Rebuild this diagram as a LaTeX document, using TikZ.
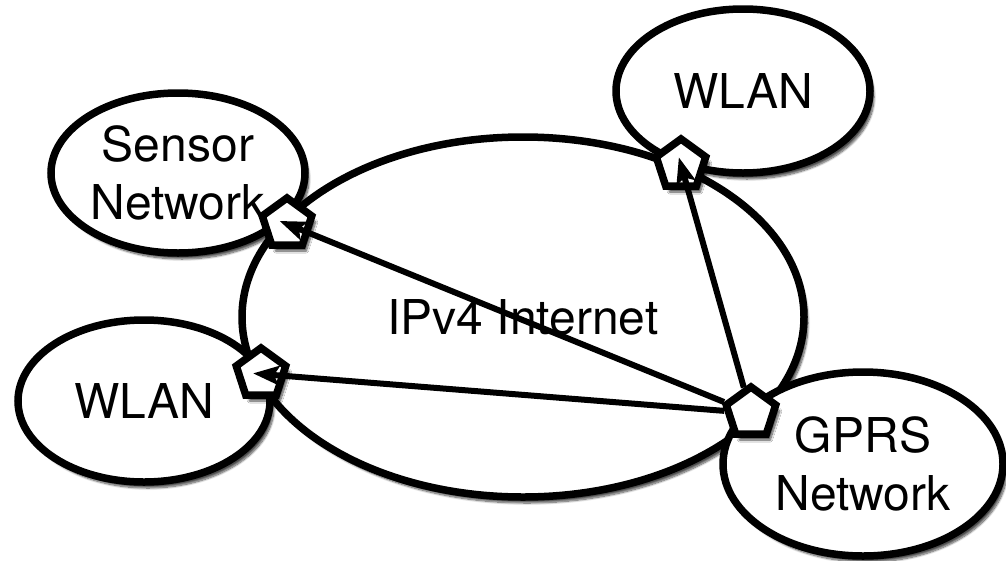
\documentclass[tikz,border=0pt]{standalone}
\usepackage{fontspec}
\setmainfont{TeX Gyre Heros}
\usetikzlibrary{
    arrows.meta,
    shapes.geometric,
    shadows.blur
}
\tikzset{
    % Shapes
    soft shadow/.style={blur shadow={shadow xshift=4pt,shadow yshift=-6pt,shadow blur steps=10,shadow opacity=70}},
    net/.style={ellipse,draw,line width=7.5pt,fill=white,inner sep=0pt,align=center,soft shadow},
    gateway/.style={regular polygon,regular polygon sides=5,draw,line width=7.5pt,fill=white,inner sep=0pt,minimum size=52pt,soft shadow},
    %
    % Arrows
    arrow tip/.tip={Stealth[length=26pt,width=19pt,inset=5pt]},
    arr/.style={->,>={arrow tip},line width=6pt,shorten >=-8pt}
}
\tikzstyle{every node}=[font=\fontsize{48}{58}\selectfont]

\begin{document}
\begin{tikzpicture}[x=1pt,y=-1pt]
        \useasboundingbox (0,0) rectangle (1006,560);
        \node[net,minimum width=562pt,minimum height=360pt] (internet) at (523,317) {IPv4 Internet};
        \node[net,minimum width=254pt,minimum height=160pt] (sensor) at (178,173) {Sensor\\Network};
        \node[net,minimum width=254pt,minimum height=164pt] (wlan top) at (743,91) {WLAN};
        \node[net,minimum width=252pt,minimum height=162pt] (wlan left) at (144,401) {WLAN};
        \node[net,minimum width=280pt,minimum height=184pt] (gprs) at (863,464) {GPRS\\Network};
        
        \node[gateway] (sensor gw) at (287,224) {};
        \node[gateway] (wlan top gw) at (681,165) {};
        \node[gateway] (wlan left gw) at (261,374) {};
        \node[gateway] (gprs gw) at (751,413) {};
        
        \foreach \t in {sensor gw,wlan top gw,wlan left gw}{
            \draw[arr] (gprs gw) -- (\t.center);
        }
    \end{tikzpicture}
\end{document}
